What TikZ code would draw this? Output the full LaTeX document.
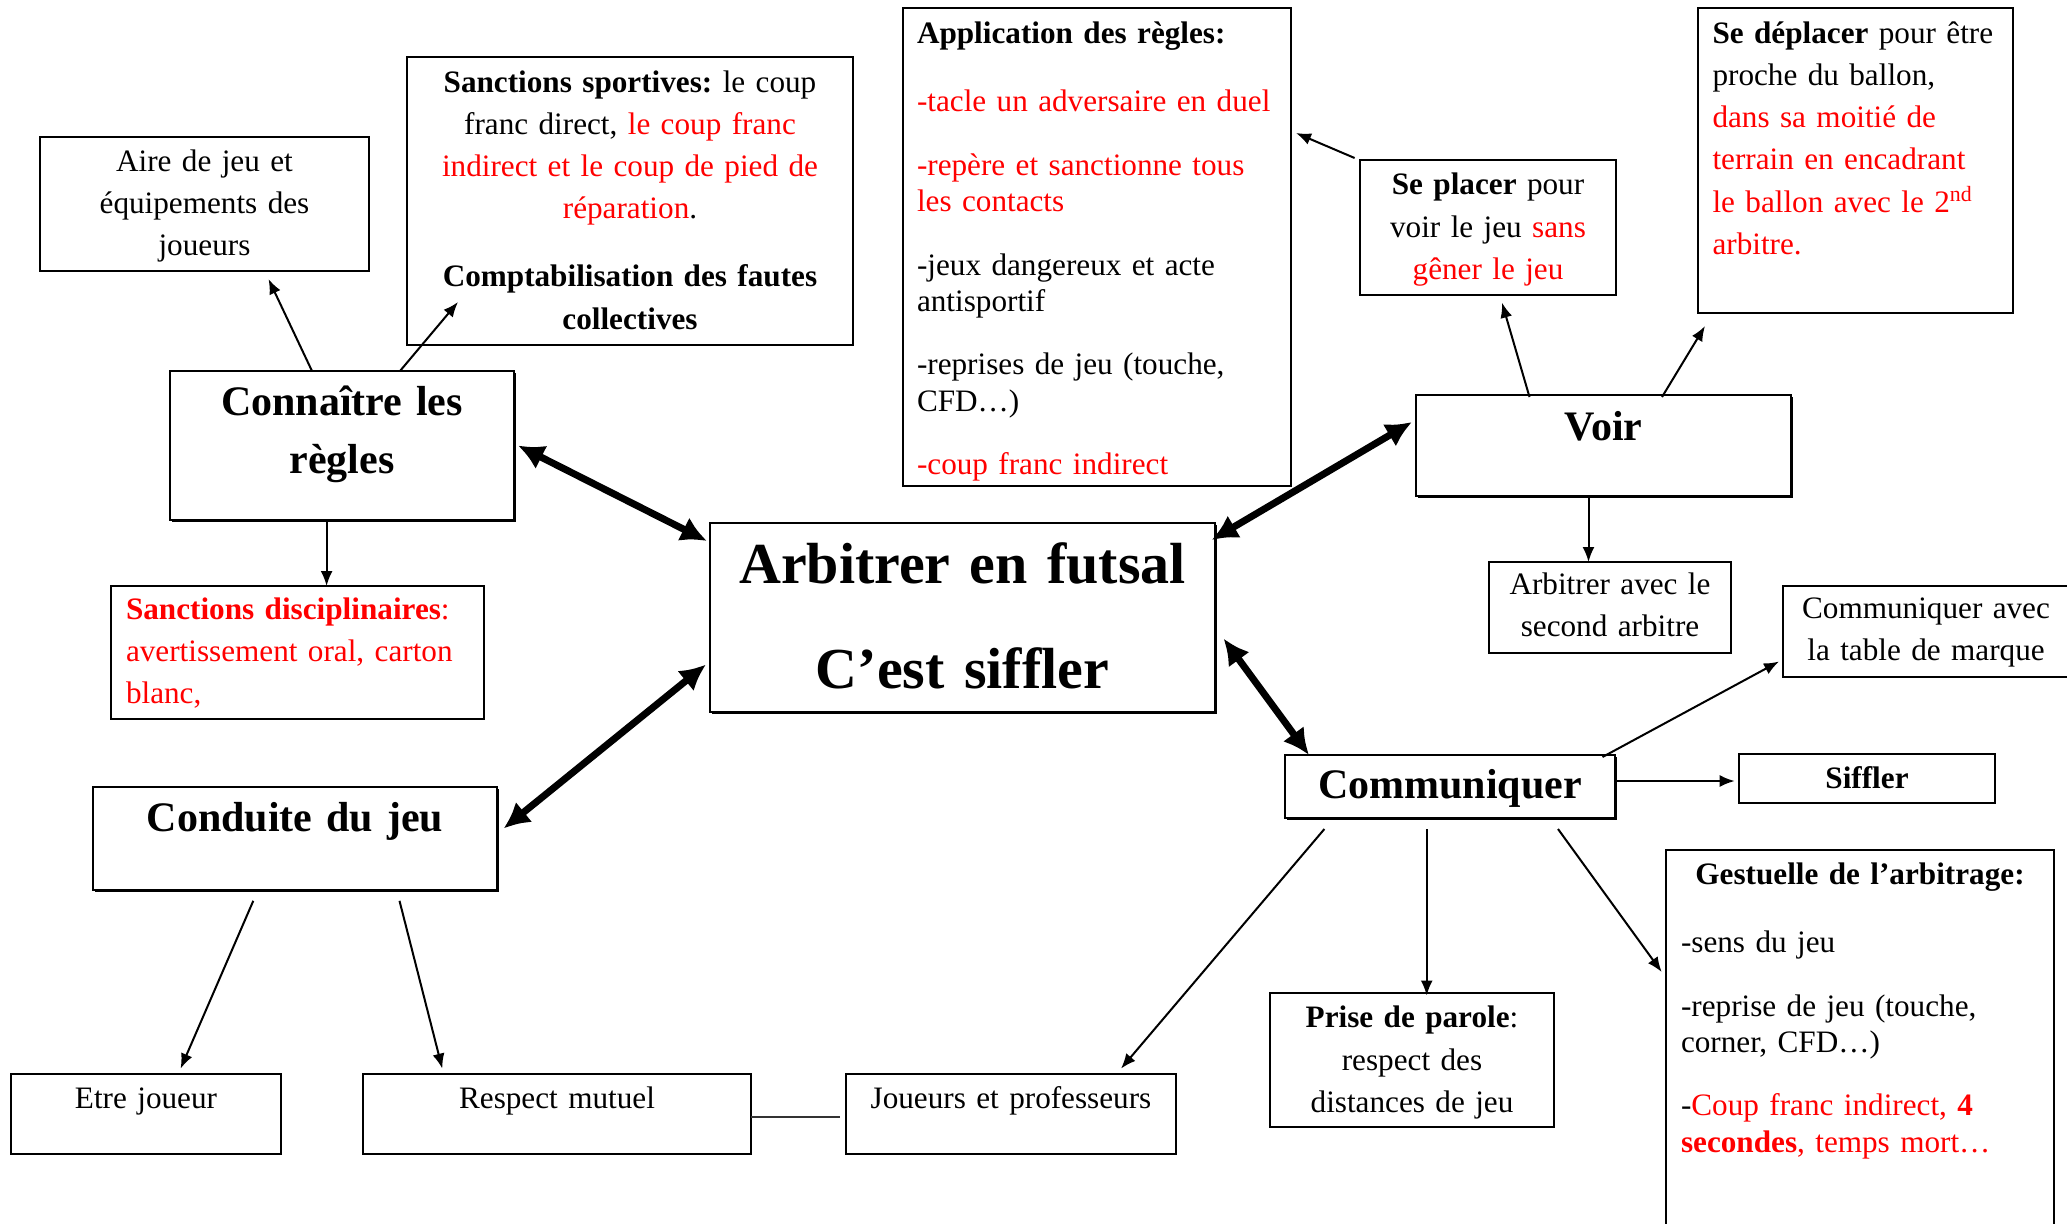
\documentclass[tikz,border=0pt]{standalone}
\usepackage{fontspec}
\setmainfont{Liberation Serif}
\usetikzlibrary{arrows.meta,shadows}
\tikzset{
  box/.style={draw,line width=1pt,fill=white,anchor=north west,outer sep=0pt,
    inner xsep=7.5pt,inner ysep=0pt,font=\fontsize{15.6}{21.1}\selectfont},
  mainbox/.style={box,drop shadow={shadow xshift=1.2pt,shadow yshift=-1.2pt,
    opacity=1,fill=black}},
  head/.style={font=\fontsize{21}{29}\selectfont\bfseries},
  liste/.style={font=\fontsize{15.6}{18.2}\selectfont},
  arrow/.style={-{Latex[length=7.5pt,width=6pt]},line width=1pt},
  bigarrow/.style={{Latex[length=13pt,width=13pt]}-{Latex[length=13pt,width=13pt]},
    line width=3.5pt}
}
\begin{document}
\frenchspacing
\begin{tikzpicture}[x=0.5pt,y=-0.5pt]
\useasboundingbox (0,0) rectangle (2067,1223);
% left part
\node[box,text width=149.5pt,align=center,text height=17.05pt,text depth=49.95pt] (aire) at (40,137)
  {Aire de jeu et\\équipements des\\joueurs};
\node[box,text width=208pt,align=center,text height=17.5pt,text depth=126.5pt] (sportives) at (407,57)
  {\textbf{Sanctions sportives:} le coup\\franc direct, \textcolor{red}{le coup franc\\indirect et le coup de pied de\\réparation}.\\[13pt]\textbf{Comptabilisation des fautes\\collectives}};
\node[mainbox,head,text width=157pt,align=center,text height=22.15pt,text depth=52.35pt] (connaitre) at (170,371)
  {Connaître les\\règles};
\node[box,text width=171.5pt,align=left,text height=16.6pt,text depth=49.9pt,text=red] (discipl) at (111,586)
  {\textbf{Sanctions disciplinaires}:\\avertissement oral, carton\\blanc,};
\node[mainbox,head,text width=187pt,align=center,text height=22.45pt,text depth=29.05pt] (conduite) at (93,787)
  {Conduite du jeu};
\node[box,text width=120pt,align=center,text height=17.15pt,text depth=22.85pt] (etre) at (11,1074) {Etre joueur};
\node[box,text width=179pt,align=center,text height=17.15pt,text depth=22.85pt] (respect) at (363,1074) {Respect mutuel};
\node[box,text width=150pt,align=center,text height=17.15pt,text depth=22.85pt] (joueurs) at (846,1074) {Joueurs et professeurs};
% centre
\node[mainbox,text width=237.5pt,align=center,text height=30.05pt,text depth=64.45pt,
  font=\fontsize{29}{52.5}\selectfont\bfseries] (arbitrer) at (710,523) {Arbitrer en futsal\\C’est siffler};
\node[box,liste,text width=180pt,inner xsep=7pt,align=left,text height=17.7pt,text depth=221.3pt] (application) at (903,8)
  {\textbf{Application des règles:}\\[16pt]\textcolor{red}{-tacle un adversaire en duel}\\[13.5pt]\textcolor{red}{-repère et sanctionne tous\\les contacts}\\[13.5pt]-jeux dangereux et acte\\antisportif\\[13.5pt]-reprises de jeu (touche,\\CFD…)\\[13.5pt]\textcolor{red}{-coup franc indirect}};
% right part
\node[box,text width=113pt,align=center,text height=17.45pt,text depth=50.05pt] (seplacer) at (1360,160)
  {\textbf{Se placer} pour\\voir le jeu \textcolor{red}{sans\\gêner le jeu}};
\node[box,text width=143pt,inner xsep=7.25pt,align=left,text height=17.6pt,text depth=134.9pt] (sedeplacer) at (1698,8)
  {\textbf{Se déplacer} pour être\\proche du ballon,\\\textcolor{red}{dans sa moitié de\\terrain en encadrant\\le ballon avec le 2\textsuperscript{nd}\\arbitre.}};
\node[mainbox,head,text width=172.5pt,align=center,text height=22.65pt,text depth=27.85pt] (voir) at (1416,395) {Voir};
\node[box,text width=106pt,align=center,text height=16.2pt,text depth=29.3pt] (second) at (1489,562)
  {Arbitrer avec le\\second arbitre};
\node[box,text width=131pt,inner xsep=6pt,align=center,text height=16.05pt,text depth=29.45pt] (table) at (1783,586)
  {Communiquer avec\\la table de marque};
\node[mainbox,head,text width=150pt,align=center,text height=21.8pt,text depth=9.7pt] (communiquer) at (1285,755) {Communiquer};
\node[box,text width=113pt,align=center,text height=17pt,text depth=7.5pt,
  font=\fontsize{15.6}{21.1}\selectfont\bfseries] (siffler) at (1739,754) {Siffler};
\node[box,text width=127pt,align=center,text height=17.45pt,text depth=49.55pt] (prise) at (1270,993)
  {\textbf{Prise de parole}:\\respect des\\distances de jeu};
\node[box,liste,text width=179pt,align=left,text height=17.1pt,text depth=182.9pt] (gestuelle) at (1666,850)
  {\makebox[179pt]{\textbf{Gestuelle de l’arbitrage:}}\\[16pt]-sens du jeu\\[13.5pt]-reprise de jeu (touche,\\corner, CFD…)\\[13.5pt]-\textcolor{red}{Coup franc indirect, \textbf{4}\\\textbf{secondes}, temps mort…}};
% connectors
\draw[bigarrow] ([xshift=2pt]connaitre.east) -- ([xshift=-1.5pt,yshift=-9pt]arbitrer.north west);
\draw[bigarrow] ([xshift=-2pt,yshift=-23.5pt]arbitrer.west) -- ([xshift=3.3pt,yshift=5pt]conduite.east);
\draw[bigarrow] ([xshift=-1.7pt,yshift=-8.5pt]arbitrer.north east) -- ([xshift=-2pt,yshift=-13.5pt]voir.north west);
\draw[bigarrow] ([xshift=4.25pt,yshift=-10.5pt]arbitrer.east) -- ([xshift=12pt]communiquer.north west);
\draw[arrow] ([xshift=-15pt]connaitre.north) -- ([xshift=32pt,yshift=-4pt]aire.south);
\draw[arrow] ([xshift=29pt]connaitre.north) -- ([xshift=25.5pt,yshift=21.5pt]sportives.south west);
\draw[arrow] ([xshift=-7.7pt]connaitre.south) -- ([xshift=14.55pt]discipl.north);
\draw[arrow] ([xshift=80.15pt,yshift=-5.4pt]conduite.south west) -- ([xshift=84.8pt,yshift=2.7pt]etre.north west);
\draw[arrow] ([xshift=153.25pt,yshift=-5.4pt]conduite.south west) -- ([xshift=39.65pt,yshift=2.7pt]respect.north west);
\draw[line width=1pt,black!80] ([yshift=-1.5pt]respect.east) -- ([xshift=-3pt,yshift=-1.5pt]joueurs.west);
\draw[arrow] ([xshift=-2.7pt,yshift=1pt]seplacer.north west) -- ([xshift=2.5pt,yshift=-62.5pt]application.north east);
\draw[arrow] ([xshift=-37pt,yshift=-1pt]voir.north) -- ([xshift=7pt,yshift=-3.85pt]seplacer.south);
\draw[arrow] ([xshift=29.25pt,yshift=-1pt]voir.north) -- ([xshift=3.5pt,yshift=-6.5pt]sedeplacer.south west);
\draw[arrow] ([xshift=-7.5pt]voir.south) -- ([xshift=-10.75pt]second.north);
\draw[arrow] ([xshift=-6.25pt,yshift=-1pt]communiquer.north east) -- ([xshift=-2pt,yshift=7.75pt]table.south west);
\draw[arrow] ([yshift=2.75pt]communiquer.east) -- ([xshift=-2.15pt,yshift=-1.25pt]siffler.west);
\draw[arrow] ([xshift=19.7pt,yshift=-5.5pt]communiquer.south west) -- ([xshift=-27.5pt,yshift=2.7pt]joueurs.north east);
\draw[arrow] ([xshift=-11.65pt,yshift=-5.5pt]communiquer.south) -- ([xshift=7.35pt,yshift=-1.25pt]prise.north);
\draw[arrow] ([xshift=-28.5pt,yshift=-5.5pt]communiquer.south east) -- ([xshift=-2.15pt,yshift=-61pt]gestuelle.north west);
\end{tikzpicture}
\end{document}
